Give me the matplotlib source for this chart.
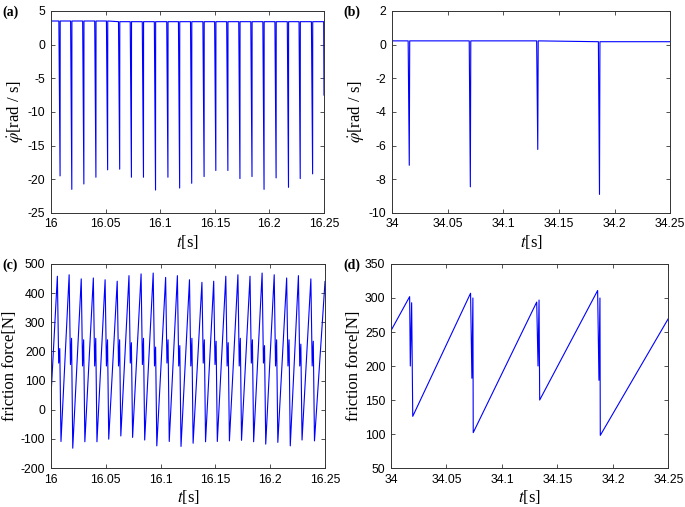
import numpy as np
import matplotlib.pyplot as plt

plt.rcParams['font.family'] = 'Liberation Sans'
plt.rcParams['mathtext.fontset'] = 'stix'
plt.rcParams['axes.unicode_minus'] = False

# ---- (a) angular velocity, 16 - 16.25 s ----
a_spike_t = [16.00828, 16.01902, 16.03006, 16.04110, 16.05184, 16.06288, 16.07362,
             16.08466, 16.09571, 16.10706, 16.11779, 16.12883, 16.14018, 16.15092,
             16.16196, 16.17301, 16.18405, 16.19509, 16.20613, 16.21748, 16.22822,
             16.23957]
a_spike_min = [-19.5, -21.5, -20.7, -19.7, -18.6, -18.5, -19.7, -19.7, -21.6, -19.7,
               -21.3, -20.6, -19.6, -18.7, -18.7, -19.9, -19.6, -21.5, -19.8, -21.2,
               -19.9, -19.2]
a_top = [3.5, 3.5, 3.5, 3.5, 3.5, 3.4, 3.4, 3.4, 3.4, 3.4, 3.4, 3.4, 3.4, 3.4,
         3.4, 3.4, 3.4, 3.4, 3.4, 3.4, 3.4, 3.4]
a_end_t = [16.2497, 16.25]
a_end_y = [3.4, -7.5]

# ---- (b) angular velocity, 34 - 34.25 s ----
b_spike_t = [34.0155, 34.0704, 34.1310, 34.1865]
b_spike_min = [-7.17, -8.45, -6.23, -8.9]
b_top = [0.22, 0.22, 0.22, 0.17]

# ---- (c) friction force, 16 - 16.25 s ----
c_peak = [458, 463, 449, 452, 446, 441, 460, 466, 469, 454, 460, 446, 437, 441,
          458, 463, 458, 469, 463, 452, 460, 449]
c_dip = [160, 155, 150, 150, 150, 150, 160, 155, 150, 160, 150, 150, 160, 155,
         150, 150, 160, 160, 150, 150, 150, 150]
c_bump = [210, 245, 240, 245, 240, 240, 230, 245, 215, 240, 220, 245, 240, 235,
          230, 245, 240, 220, 240, 240, 225, 235]
c_min = [-109, -132, -110, -110, -101, -90, -95, -104, -124, -109, -126, -115,
         -110, -109, -107, -105, -110, -118, -112, -124, -104, -107]
c_start = (16.0, 50)
c_end = (16.25, 440)

# ---- (d) friction force, 34 - 34.25 s ----
d_t = [34.0, 34.0168, 34.0174, 34.0186, 34.0196, 34.0717, 34.0729, 34.0738, 34.0741,
       34.1313, 34.1325, 34.1334, 34.1340, 34.1862, 34.1874, 34.1883, 34.1886, 34.25]
d_f = [252, 302, 200, 293, 126, 307, 182, 300, 102, 294, 200, 297, 150, 311, 179,
       300, 98, 270]


def spike_line(t0, times, mins, tops, pre, post):
    t, y = [t0], [tops[0]]
    for s, m, top in zip(times, mins, tops):
        t += [s - pre, s, s + post]
        y += [top, m, top]
    return t, y


a_t, a_y = spike_line(16.0, a_spike_t, a_spike_min, a_top, 0.0011, 0.0001)
a_t += a_end_t
a_y += a_end_y

b_t, b_y = spike_line(34.0, b_spike_t, b_spike_min, b_top, 0.0010, 0.0004)
b_t.append(34.25)
b_y.append(b_top[-1])

c_t, c_y = [c_start[0]], [c_start[1]]
for s, p, d, b, m in zip(a_spike_t, c_peak, c_dip, c_bump, c_min):
    c_t += [s - 0.0025, s - 0.0013, s - 0.0003, s + 0.0008]
    c_y += [p, d, b, m]
c_t.append(c_end[0])
c_y.append(c_end[1])

fig = plt.figure(figsize=(6.85, 5.07), dpi=100)
axa = fig.add_axes([0.0745, 0.580, 0.3985, 0.3985])
axb = fig.add_axes([0.5723, 0.580, 0.4060, 0.3985])
axc = fig.add_axes([0.0745, 0.0769, 0.4000, 0.4024])
axd = fig.add_axes([0.5708, 0.0769, 0.4050, 0.4024])

blue = '#0000ff'
axa.plot(a_t, a_y, color=blue, lw=0.8)
axb.plot(b_t, b_y, color=blue, lw=0.8)
axc.plot(c_t, c_y, color=blue, lw=0.8)
axd.plot(d_t, d_f, color=blue, lw=0.8)

axa.set_xlim(16, 16.25)
axa.set_ylim(-25, 5)
axa.set_xticks([16, 16.05, 16.1, 16.15, 16.2, 16.25])
axa.set_xticklabels(['16', '16.05', '16.1', '16.15', '16.2', '16.25'])
axa.set_yticks([-25, -20, -15, -10, -5, 0, 5])

axb.set_xlim(34, 34.25)
axb.set_ylim(-10, 2)
axb.set_xticks([34, 34.05, 34.1, 34.15, 34.2, 34.25])
axb.set_xticklabels(['34', '34.05', '34.1', '34.15', '34.2', '34.25'])
axb.set_yticks([-10, -8, -6, -4, -2, 0, 2])

axc.set_xlim(16, 16.25)
axc.set_ylim(-200, 500)
axc.set_xticks([16, 16.05, 16.1, 16.15, 16.2, 16.25])
axc.set_xticklabels(['16', '16.05', '16.1', '16.15', '16.2', '16.25'])
axc.set_yticks([-200, -100, 0, 100, 200, 300, 400, 500])

axd.set_xlim(34, 34.25)
axd.set_ylim(50, 350)
axd.set_xticks([34, 34.05, 34.1, 34.15, 34.2, 34.25])
axd.set_xticklabels(['34', '34.05', '34.1', '34.15', '34.2', '34.25'])
axd.set_yticks([50, 100, 150, 200, 250, 300, 350])

serif = 'Liberation Serif'
for ax in (axa, axb):
    ax.set_ylabel(r'$\dot{\varphi}$[rad / s]', family=serif, fontsize=12, labelpad=2)
for ax in (axc, axd):
    ax.set_ylabel('friction force[N]', family=serif, fontsize=12, labelpad=2)
for ax in (axa, axb, axc, axd):
    ax.set_xlabel(r'$t$[s]', family=serif, fontsize=12, labelpad=2)
    ax.tick_params(direction='in', top=True, right=True, labelsize=8.8,
                   length=3, width=0.6, color='#333333', pad=4)
    for sp in ax.spines.values():
        sp.set_linewidth(0.7)
        sp.set_color('#333333')

fig.text(0.004, 0.976, '(a)', family=serif, weight='bold', fontsize=10, va='center')
fig.text(0.502, 0.976, '(b)', family=serif, weight='bold', fontsize=10, va='center')
fig.text(0.004, 0.476, '(c)', family=serif, weight='bold', fontsize=10, va='center')
fig.text(0.502, 0.476, '(d)', family=serif, weight='bold', fontsize=10, va='center')

fig.savefig('out.png', dpi=100)
